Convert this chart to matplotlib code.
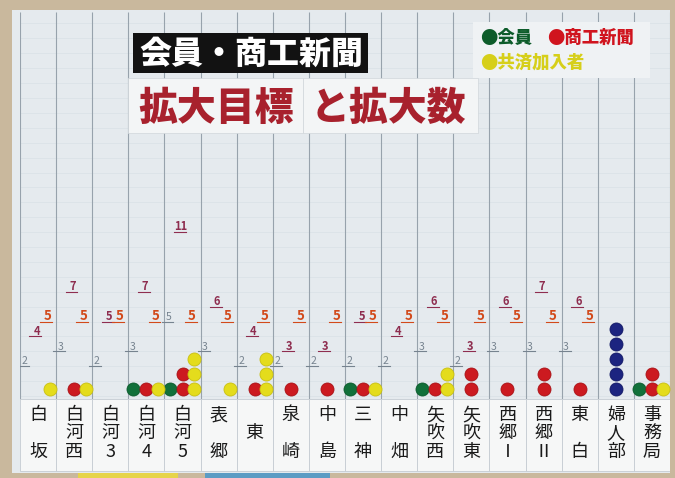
import matplotlib
matplotlib.use('Agg')
import matplotlib.pyplot as plt
from matplotlib.patches import Rectangle

plt.rcParams['font.family'] = ['Noto Sans CJK JP', 'DejaVu Sans']

# districts (columns, left to right)
districts = ['白坂', '白河西', '白河3', '白河4', '白河5', '表郷', '東', '泉崎', '中島',
             '三神', '中畑', '矢吹西', '矢吹東', '西郷Ⅰ', '西郷Ⅱ', '東白', '婦人部', '事務局']

# targets written on the sheet (None = no target)
member_goal = [2, 3, 2, 3, 5, 3, 2, 2, 2, 2, 2, 3, 2, 3, 3, 3, None, None]
kyosai_goal = [4, 7, 5, 7, 11, 6, 4, 3, 3, 5, 4, 6, 3, 6, 7, 6, None, None]
paper_goal = [5, 5, 5, 5, 5, 5, 5, 5, 5, 5, 5, 5, 5, 5, 5, 5, None, None]

# stickers (achieved)
members = [0, 0, 0, 1, 1, 0, 0, 0, 0, 1, 0, 1, 0, 0, 0, 0, 0, 1]
papers = [0, 1, 0, 1, 2, 0, 1, 1, 1, 1, 0, 1, 2, 1, 2, 1, 0, 2]
kyosai = [1, 1, 0, 1, 3, 1, 3, 0, 0, 1, 0, 2, 0, 0, 0, 0, 0, 1]
fujin = [0, 0, 0, 0, 0, 0, 0, 0, 0, 0, 0, 0, 0, 0, 0, 0, 5, 0]

W, H = 675, 478


def fx(x):
    return x / W


def fy(y):
    return 1 - y / H


fig = plt.figure(figsize=(6.75, 4.78), dpi=100, facecolor='#c9b89d')

# poster paper
fig.add_artist(Rectangle((fx(12), fy(473)), fx(670) - fx(12), fy(10) - fy(473),
                         transform=fig.transFigure, facecolor='#e5eaee',
                         edgecolor='none', zorder=0))
# bits of other sheets under the poster
fig.add_artist(Rectangle((fx(78), 0), fx(178) - fx(78), fy(473),
                         transform=fig.transFigure, facecolor='#e6d44a', edgecolor='none', zorder=0))
fig.add_artist(Rectangle((fx(205), 0), fx(330) - fx(205), fy(473),
                         transform=fig.transFigure, facecolor='#5c9cc4', edgecolor='none', zorder=0))

ax = fig.add_axes([fx(20), fy(474), fx(670) - fx(20), fy(12) - fy(474)])
ax.set_xlim(-0.5, 17.5)
ax.set_ylim(-5.23, 25.77)
ax.axis('off')

n = len(districts)

# grid paper
ax.hlines(range(0, 26), -0.5, 17.5, color='#d9e0e6', lw=0.5, zorder=1)
ax.vlines([i + 0.5 for i in range(-1, n)], -0.2, 25.77, color='#97a2ac', lw=0.8, zorder=2)

# target numbers with underline
goal_series = [
    (member_goal, -0.38, '#76838f', 7.5, 'normal'),
    (kyosai_goal, -0.04, '#8e2d4f', 8, 'bold'),
    (paper_goal, 0.26, '#d2491a', 9.5, 'bold'),
]
for goals, off, col, fs, fw in goal_series:
    for i, g in enumerate(goals):
        if g is None:
            continue
        x = i + off
        ax.plot([x - 0.2, x + 0.13], [g, g], color=col, lw=0.8, zorder=3)
        ax.text(x, g + 0.12, str(g), ha='center', va='baseline', fontsize=fs,
                fontweight=fw, color=col, zorder=4)

# stickers
dot_series = [
    (members, -0.36, '#11703a', '#0b5a2c'),
    (papers, 0.0, '#cc1a20', '#a81217'),
    (kyosai, 0.32, '#e4dc1c', '#c8bf12'),
    (fujin, 0.0, '#1c2480', '#141a66'),
]
for counts, off, col, edge in dot_series:
    for i, c in enumerate(counts):
        if c == 0:
            continue
        ax.scatter([i + off] * c, [k + 0.5 for k in range(c)], s=88, color=col,
                   edgecolor=edge, linewidth=0.6, zorder=5)

# district name cards
rows = {1: [-2.48], 2: [-1.28, -3.76], 3: [-1.28, -2.48, -3.76]}
for i, name in enumerate(districts):
    ax.add_patch(Rectangle((i - 0.5, -5.0), 1, 4.8, facecolor='#f6f7f7',
                           edgecolor='#c5ccd2', lw=0.6, zorder=3))
    for ch, y in zip(name, rows[len(name)]):
        ax.text(i, y, ch, ha='center', va='center', fontsize=13, color='#1a1a1a', zorder=4)

# title sheets
fig.add_artist(Rectangle((fx(133), fy(73)), fx(368) - fx(133), fy(33) - fy(73),
                         transform=fig.transFigure, facecolor='#121212', edgecolor='none'))
fig.text(fx(251), fy(54), '会員・商工新聞', ha='center', va='center', fontsize=23,
         fontweight='heavy', color='white')

fig.add_artist(Rectangle((fx(128), fy(133)), fx(303) - fx(128), fy(78) - fy(133),
                         transform=fig.transFigure, facecolor='#f3f5f6', edgecolor='#d0d6da', lw=0.5))
fig.add_artist(Rectangle((fx(303), fy(133)), fx(478) - fx(303), fy(78) - fy(133),
                         transform=fig.transFigure, facecolor='#f3f5f6', edgecolor='#d0d6da', lw=0.5))
fig.text(fx(216), fy(108), '拡大目標', ha='center', va='center', fontsize=28,
         fontweight='heavy', color='#a8212d')
fig.text(fx(388), fy(108), 'と拡大数', ha='center', va='center', fontsize=28,
         fontweight='heavy', color='#a8212d')

# legend sheet
fig.add_artist(Rectangle((fx(473), fy(78)), fx(650) - fx(473), fy(22) - fy(78),
                         transform=fig.transFigure, facecolor='#eff2f4', edgecolor='none'))
fig.text(fx(480), fy(38), '●会員', ha='left', va='center', fontsize=12.5,
         fontweight='heavy', color='#0d5c2a')
fig.text(fx(547), fy(38), '●商工新聞', ha='left', va='center', fontsize=12.5,
         fontweight='heavy', color='#d0141e')
fig.text(fx(480), fy(63), '●共済加入者', ha='left', va='center', fontsize=12.5,
         fontweight='heavy', color='#d6cf1a')

fig.savefig('out.png', dpi=100, facecolor=fig.get_facecolor())
